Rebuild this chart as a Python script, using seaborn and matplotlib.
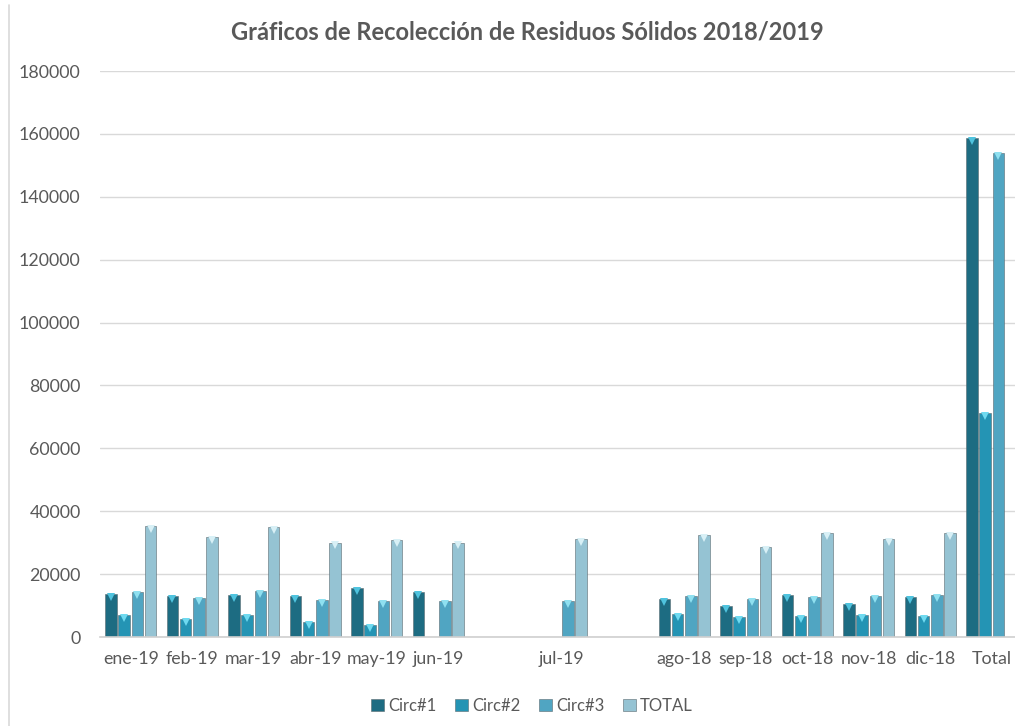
import numpy as np
import pandas as pd
import seaborn as sns
import matplotlib
matplotlib.use("Agg")
import matplotlib.pyplot as plt
from matplotlib.lines import Line2D
import matplotlib.colors as mcolors

nan = np.nan
categories = ["ene-19", "feb-19", "mar-19", "abr-19", "may-19", "jun-19", "",
              "jul-19", " ", "ago-18", "sep-18", "oct-18", "nov-18", "dic-18", "Total"]
circ1 = [13700, 13000, 13300, 13000, 15600, 14300, nan, nan, nan,
         12100, 9900, 13300, 10500, 12700, 158700]
circ2 = [7000, 5700, 7000, 4800, 3800, nan, nan, nan, nan,
         7300, 6400, 6700, 7000, 6700, 71200]
circ3 = [14300, 12400, 14600, 11800, 11400, 11400, nan, 11400, nan,
         13000, 12100, 12700, 13000, 13200, 154000]
total = [35300, 31800, 35000, 30000, 30800, 30000, nan, 31200, nan,
         32400, 28600, 33100, 31200, 33100, nan]
series = ["Circ#1", "Circ#2", "Circ#3", "TOTAL"]
yticks = [0, 20000, 40000, 60000, 80000, 100000, 120000, 140000, 160000, 180000]
title = "Gráficos de Recolección de Residuos Sólidos 2018/2019"

colors = ["#1d6c82", "#2494b4", "#50a5c2", "#95c3d3"]
caps = ["#4fc3de", "#6fdaf0", "#8fe0f0", "#d8f0f6"]

rows = []
for name, vals in zip(series, [circ1, circ2, circ3, total]):
    for c, v in zip(categories, vals):
        rows.append({"Mes": c, "Serie": name, "Valor": v})
df = pd.DataFrame(rows)

sns.set_theme(style="white")
plt.rcParams["font.family"] = ["Lato", "DejaVu Sans"]

W, H = 1015, 726
fig = plt.figure(figsize=(W / 100, H / 100), dpi=100)
ax = fig.add_axes([100 / W, 89 / H, 915 / W, 566 / H])

sns.barplot(data=df, x="Mes", y="Valor", hue="Serie", order=categories,
            hue_order=series, palette=colors, errorbar=None, width=0.86,
            gap=0.12, ax=ax, legend=True, edgecolor="#5a6a70", linewidth=0.4,
            saturation=1)

# bevel caps on bar tops
for patch in ax.patches:
    h = patch.get_height()
    if h is None or not np.isfinite(h) or h <= 0:
        continue
    fc = mcolors.to_hex(patch.get_facecolor())
    idx = colors.index(fc) if fc in colors else 0
    x = patch.get_x() + patch.get_width() / 2
    ax.plot([x], [h - 900], marker="v", markersize=5.5, color=caps[idx],
            markeredgewidth=0, zorder=5, clip_on=False)

ax.set_xlim(-0.5, -0.5 + 915 / 61.5)
ax.set_ylim(0, 180000)
ax.set_yticks(yticks)
ax.set_yticklabels([str(t) for t in yticks])
ax.set_xlabel("")
ax.set_ylabel("")
ax.grid(axis="y", color="#d9d9d9", linewidth=1)
ax.set_axisbelow(True)
for s in ["top", "right", "left"]:
    ax.spines[s].set_visible(False)
ax.spines["bottom"].set_color("#d0d0d0")
ax.spines["bottom"].set_linewidth(1.2)
ax.tick_params(axis="y", length=0, pad=14, labelsize=12.8, labelcolor="#595959")
ax.tick_params(axis="x", length=0, pad=10, labelsize=12.8, labelcolor="#595959")

handles, labels = ax.get_legend_handles_labels()
ax.get_legend().remove()
fig.legend(handles, labels, loc="center", bbox_to_anchor=(532 / W, 1 - 706 / H),
           ncol=4, frameon=False, fontsize=12, labelcolor="#595959",
           handlelength=0.75, handleheight=0.75, handletextpad=0.25, columnspacing=1.15)

fig.text(527.5 / W, 1 - 32 / H, title, ha="center", va="center",
         fontsize=17, fontweight="bold", color="#595959")

fig.add_artist(Line2D([9 / W, 9 / W], [0, 1 - 5 / H], transform=fig.transFigure,
                      color="#d9d9d9", linewidth=1.2))

fig.savefig("out.png", dpi=100)
